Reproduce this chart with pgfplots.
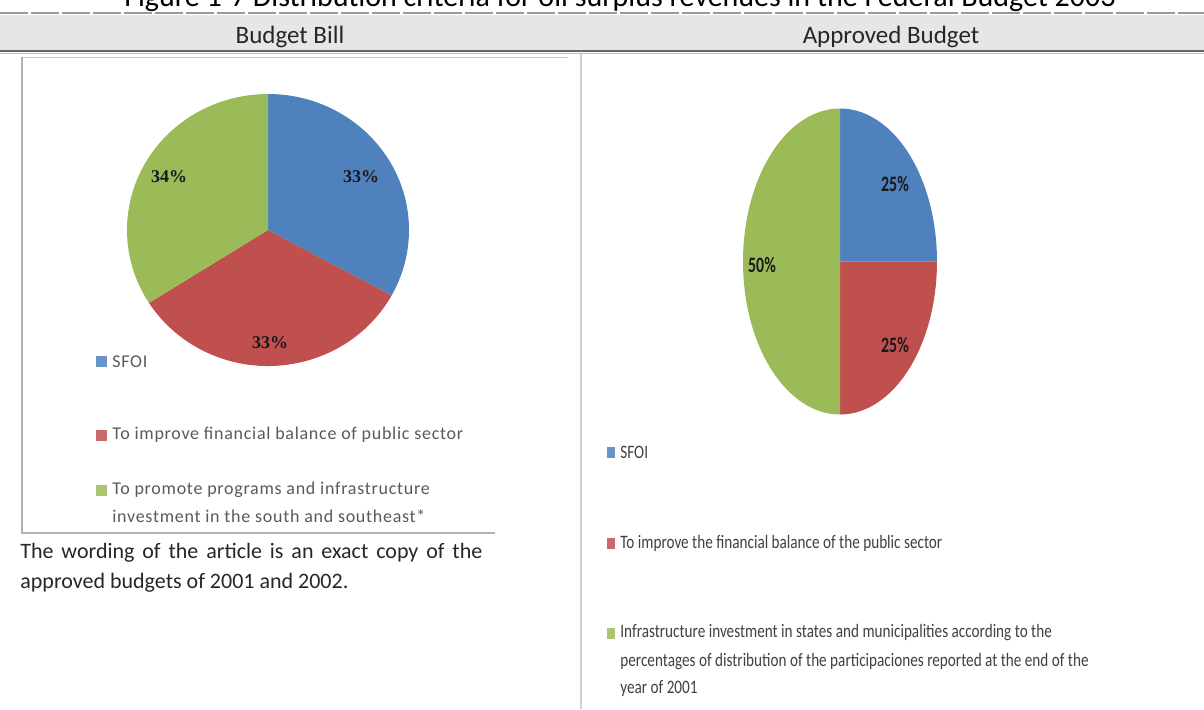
\documentclass[border=0pt]{standalone}
\usepackage{pgfplots}
\pgfplotsset{compat=1.18}
\usepackage{pgfplotstable}
\usepackage{fontspec}
\setmainfont{Carlito}
\newfontfamily\serifb{Liberation Serif}
\newfontfamily\legfont{Carlito}[LetterSpace=4]

\definecolor{pblue}{HTML}{4F81BD}
\definecolor{pred}{HTML}{C0504D}
\definecolor{pgreen}{HTML}{9BBB59}
\definecolor{bandgray}{HTML}{E6E6E6}
\definecolor{legtxt}{HTML}{595959}
\definecolor{legtxtr}{HTML}{404040}
\definecolor{bodytxt}{HTML}{262626}

% shares (%) : SFOI, financial balance, infrastructure
\pgfplotstableread{
share
33
33
34
}\billdata
\pgfplotstableread{
share
25
25
50
}\approveddata

\begin{document}
\begin{tikzpicture}
\path[use as bounding box] (0,0) rectangle (602pt,-354.5pt);
\clip (0,0) rectangle (602pt,-354.5pt);

% ---- angles from the data
\pgfplotstablegetelem{0}{share}\of\billdata \let\bA\pgfplotsretval
\pgfplotstablegetelem{1}{share}\of\billdata \let\bB\pgfplotsretval
\pgfplotstablegetelem{2}{share}\of\billdata \let\bC\pgfplotsretval
\pgfmathsetmacro\bAs{90}
\pgfmathsetmacro\bAe{\bAs-3.6*\bA}
\pgfmathsetmacro\bBe{\bAe-3.6*\bB}
\pgfmathsetmacro\bCe{\bBe-3.6*\bC}
\pgfplotstablegetelem{0}{share}\of\approveddata \let\aA\pgfplotsretval
\pgfplotstablegetelem{1}{share}\of\approveddata \let\aB\pgfplotsretval
\pgfplotstablegetelem{2}{share}\of\approveddata \let\aC\pgfplotsretval
\pgfmathsetmacro\aAs{90}
\pgfmathsetmacro\aAe{\aAs-3.6*\aA}
\pgfmathsetmacro\aBe{\aAe-3.6*\aB}
\pgfmathsetmacro\aCe{\aBe-3.6*\aC}

\begin{scope}[x=0.5pt,y=-0.5pt]
% title (cut off at top)
\node[anchor=base, inner sep=0, font=\fontsize{15}{18}\selectfont] at (620,6)
  {Figure 1-7 Distribution criteria for oil surplus revenues in the Federal Budget 2003};
% header band
\fill[bandgray] (0,15) rectangle (1204,50);
\draw[gray!80, line width=0.9pt, dash pattern=on 14pt off 1.5pt] (0,13) -- (1204,13);
\draw[black!60, line width=1.1pt] (0,51) -- (1204,51);
\draw[black!25, line width=0.5pt] (0,53.5) -- (1204,53.5);
\node[anchor=base, inner sep=0, font=\fontsize{12.5}{15}\selectfont, text=black!85] at (290,43) {Budget Bill};
\node[anchor=base, inner sep=0, font=\fontsize{12.5}{15}\selectfont, text=black!85] at (891,43) {Approved Budget};
% frames
\draw[black!20, line width=0.5pt] (22,57) -- (568,57);
\draw[black!30, line width=0.6pt] (22,57) -- (22,533) -- (495,533);
\draw[black!18, line width=0.6pt] (581,54) -- (581,709);
\end{scope}

% ---- left pie (Budget Bill)
\begin{axis}[at={(134pt,-115pt)}, anchor=origin, hide axis, scale only axis,
  width=141pt, height=136pt, xmin=-1, xmax=1, ymin=-1, ymax=1, clip=false]
\fill[pblue] (axis cs:0,0) -- (axis cs:{cos(\bAs)},{sin(\bAs)})
  arc[start angle=\bAs, end angle=\bAe, x radius=70.5pt, y radius=68pt] -- cycle;
\fill[pred] (axis cs:0,0) -- (axis cs:{cos(\bAe)},{sin(\bAe)})
  arc[start angle=\bAe, end angle=\bBe, x radius=70.5pt, y radius=68pt] -- cycle;
\fill[pgreen] (axis cs:0,0) -- (axis cs:{cos(\bBe)},{sin(\bBe)})
  arc[start angle=\bBe, end angle=\bCe, x radius=70.5pt, y radius=68pt] -- cycle;
\end{axis}

% ---- right pie (Approved Budget)
\begin{axis}[at={(420pt,-130.75pt)}, anchor=origin, hide axis, scale only axis,
  width=97pt, height=153pt, xmin=-1, xmax=1, ymin=-1, ymax=1, clip=false]
\fill[pblue] (axis cs:0,0) -- (axis cs:{cos(\aAs)},{sin(\aAs)})
  arc[start angle=\aAs, end angle=\aAe, x radius=48.5pt, y radius=76.5pt] -- cycle;
\fill[pred] (axis cs:0,0) -- (axis cs:{cos(\aAe)},{sin(\aAe)})
  arc[start angle=\aAe, end angle=\aBe, x radius=48.5pt, y radius=76.5pt] -- cycle;
\fill[pgreen] (axis cs:0,0) -- (axis cs:{cos(\aBe)},{sin(\aBe)})
  arc[start angle=\aBe, end angle=\aCe, x radius=48.5pt, y radius=76.5pt] -- cycle;
\end{axis}

\begin{scope}[x=0.5pt,y=-0.5pt]
% pie labels left
\node[font=\serifb\bfseries\fontsize{9}{10}\selectfont, text=black!90] at (361,177) {33\%};
\node[font=\serifb\bfseries\fontsize{9}{10}\selectfont, text=black!90] at (169,177) {34\%};
\node[font=\serifb\bfseries\fontsize{9}{10}\selectfont, text=black!90] at (270,343) {33\%};
% pie labels right
\node[font=\bfseries\fontsize{11}{12}\selectfont, text=black!90] at (895,184) {\scalebox{0.72}[1]{25\%}};
\node[font=\bfseries\fontsize{11}{12}\selectfont, text=black!90] at (895,345) {\scalebox{0.72}[1]{25\%}};
\node[font=\bfseries\fontsize{11}{12}\selectfont, text=black!90] at (762,265) {\scalebox{0.72}[1]{50\%}};

% left legend
\fill[pblue!85] (96,356) rectangle (107,367);
\fill[pred!85] (96,430) rectangle (107,441);
\fill[pgreen!85] (96,485) rectangle (107,496);
\begin{scope}[every node/.style={anchor=west, inner sep=0, font=\legfont\fontsize{9}{11}\selectfont, text=legtxt}]
\node at (112,362) {SFOI};
\node at (112,435) {To improve financial balance of public sector};
\node at (112,490) {To promote programs and infrastructure};
\node at (112,516) {investment in the south and southeast*};
\end{scope}

% right legend
\fill[pblue!85] (607,447) rectangle (615,458);
\fill[pred!85] (607,538) rectangle (615,549);
\fill[pgreen!85] (607,628) rectangle (615,639);
\begin{scope}[every node/.style={anchor=west, inner sep=0, font=\fontsize{9.5}{11}\selectfont, text=legtxtr}]
\node at (620,452) {\scalebox{0.8}[1]{SFOI}};
\node at (620,543) {\scalebox{0.8}[1]{To improve the financial balance of the public sector}};
\node at (620,633) {\scalebox{0.8}[1]{Infrastructure investment in states and municipalities according to the}};
\node at (620,662) {\scalebox{0.8}[1]{percentages of distribution of the participaciones reported at the end of the}};
\node at (620,689) {\scalebox{0.8}[1]{year of 2001}};
\end{scope}

% note below left chart
\node[anchor=base west, inner sep=0, font=\fontsize{11}{15}\selectfont, text=bodytxt] at (20,558)
  {\makebox[231pt][s]{The wording of the article is an exact copy of the}};
\node[anchor=base west, inner sep=0, font=\fontsize{11}{15}\selectfont, text=bodytxt] at (20,588)
  {approved budgets of 2001 and 2002.};
\end{scope}
\end{tikzpicture}
\end{document}
